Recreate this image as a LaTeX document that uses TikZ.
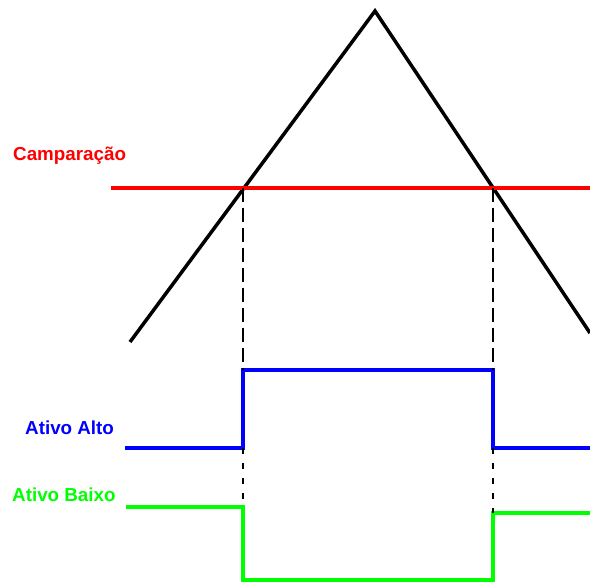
\documentclass[tikz,border=0pt]{standalone}
\usepackage{fontspec}
\setmainfont{Liberation Sans}
\tikzset{
    etichetta/.style={anchor=base west, inner sep=0pt, font=\fontsize{18.8}{22}\selectfont\bfseries},
    guida/.style={line width=2pt, dash pattern=on 14pt off 6pt},
    guidacorta/.style={line width=2pt, dash pattern=on 6pt off 9pt}
}
\begin{document}
\begin{tikzpicture}[x=1pt, y=-1pt]
    \useasboundingbox (0,0) rectangle (590,583);
    % Etichette
    \node[etichetta, text=red] (lbl_cmp) at (13,161) {Camparação};
    \node[etichetta, text=blue] (lbl_alto) at (25,434) {Ativo Alto};
    \node[etichetta, text=green] (lbl_baixo) at (12,501) {Ativo Baixo};

    % Onda triangolare
    \coordinate (tri_a) at (130,342);
    \coordinate (tri_top) at (375,11);
    \coordinate (tri_b) at (590,333);
    \draw[line width=3.5pt] (tri_a) -- (tri_top) -- (tri_b);

    % Livello di confronto
    \coordinate (cmp_a) at (111,188);
    \coordinate (cmp_b) at (590,188);
    \draw[red, line width=4pt] (cmp_a) -- (cmp_b);

    % Punti di incrocio
    \coordinate (x_sx) at (243,188);
    \coordinate (x_dx) at (493,188);

    % Uscita attiva alta
    \coordinate (alto_0) at (125,448);
    \coordinate (alto_1) at (243,448);
    \coordinate (alto_2) at (243,370);
    \coordinate (alto_3) at (493,370);
    \coordinate (alto_4) at (493,448);
    \coordinate (alto_5) at (590,448);
    \draw[blue, line width=4pt] (alto_0) -- (alto_1) -- (alto_2) -- (alto_3) -- (alto_4) -- (alto_5);

    % Uscita attiva bassa
    \coordinate (baixo_0) at (126,507);
    \coordinate (baixo_1) at (243,507);
    \coordinate (baixo_2) at (243,580);
    \coordinate (baixo_3) at (493,580);
    \coordinate (baixo_4) at (493,513);
    \coordinate (baixo_5) at (590,513);
    \draw[green, line width=4pt] (baixo_0) -- (baixo_1) -- (baixo_2) -- (baixo_3) -- (baixo_4) -- (baixo_5);

    % Linee guida
    \draw[guida] (x_sx) -- (alto_2);
    \draw[guida] (x_dx) -- (alto_3);
    \draw[guidacorta] (alto_1) -- (baixo_1);
    \draw[guidacorta] (alto_4) -- (baixo_4);
\end{tikzpicture}
\end{document}
